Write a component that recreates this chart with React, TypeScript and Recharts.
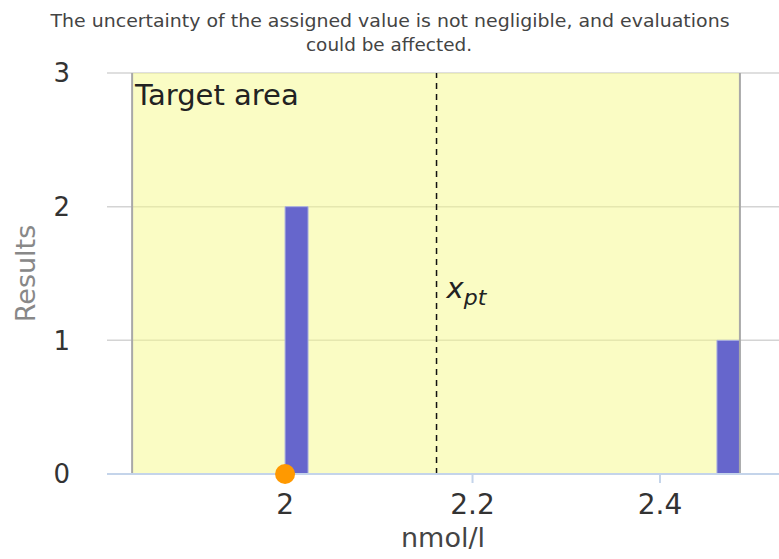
import React from "react";
import {
  ComposedChart,
  CartesianGrid,
  XAxis,
  YAxis,
  Scatter,
  ReferenceArea,
  ReferenceLine,
} from "recharts";

// participant results histogram (bin start, bin end, count)
const binStarts = [2.0, 2.4608];
const binEnds = [2.0245, 2.4853];
const binCounts = [2, 1];

// own result marker
const ownResult = [{ x: 2.0, y: 0 }];

// assigned value and target area
const xpt = 2.1616;
const targetLow = 1.8368;
const targetHigh = 2.4853;

const xTicks = [2, 2.2, 2.4];
const yTicks = [0, 1, 2, 3];
const xDomain = [1.81, 2.527];

const title = [
  "The uncertainty of the assigned value is not negligible, and evaluations",
  "could be affected.",
];

const FONT = "'DejaVu Sans', Verdana, sans-serif";

const App: React.FC = () => {
  const bins = binStarts.map((s, i) => ({ x1: s, x2: binEnds[i], y: binCounts[i] }));

  const targetLabel = (props: any) => {
    const { x, y } = props.viewBox;
    return (
      <text x={x + 3} y={y + 32} fontSize={29} fontFamily={FONT} fill="#222">
        Target area
      </text>
    );
  };

  const xptLabel = (props: any) => {
    const { x, y, height } = props.viewBox;
    return (
      <text x={x + 10} y={y + height / 2 + 24} fontFamily={FONT} fill="#222" fontStyle="italic">
        <tspan fontSize={29}>x</tspan>
        <tspan fontSize={22} dy={7}>pt</tspan>
      </text>
    );
  };

  const yLabel = (props: any) => {
    const { y, height } = props.viewBox;
    const cx = 25;
    const cy = y + height / 2;
    return (
      <text
        x={cx}
        y={cy}
        transform={`rotate(-90, ${cx}, ${cy})`}
        textAnchor="middle"
        dominantBaseline="central"
        fontSize={27}
        fontFamily={FONT}
        fill="#888"
      >
        Results
      </text>
    );
  };

  return (
    <div style={{ position: "absolute", left: 0, top: 0, width: 779, height: 559, background: "#fff" }}>
      <ComposedChart
        width={779}
        height={559}
        data={ownResult}
        margin={{ top: 73, right: 0, bottom: 0, left: 0 }}
      >
        <CartesianGrid vertical={false} stroke="#d4d4d4" strokeWidth={1.5} />
        <XAxis
          type="number"
          dataKey="x"
          domain={xDomain}
          ticks={xTicks}
          allowDataOverflow
          height={85}
          stroke="#c4d4ea"
          strokeWidth={2}
          tickSize={9}
          tickMargin={11}
          tick={{ fontSize: 28, fontFamily: FONT, fill: "#333" }}
          tickFormatter={(v: number) => String(v)}
          label={{
            value: "nmol/l",
            position: "insideBottom",
            offset: 12,
            fontSize: 27,
            fontFamily: FONT,
            fill: "#444",
          }}
        />
        <YAxis
          type="number"
          dataKey="y"
          domain={[0, 3]}
          ticks={yTicks}
          width={107}
          axisLine={false}
          tickLine={false}
          tickMargin={31}
          tick={{ fontSize: 26, fontFamily: FONT, fill: "#333" }}
          label={yLabel}
        />
        <ReferenceArea
          x1={targetLow}
          x2={targetHigh}
          y1={0}
          y2={3}
          fill="#f5f98a"
          fillOpacity={0.5}
          stroke="none"
          label={targetLabel}
        />
        <ReferenceLine x={targetLow} stroke="#a8a8a8" strokeWidth={2} />
        <ReferenceLine x={targetHigh} stroke="#a8a8a8" strokeWidth={2} />
        {bins.map((b, i) => (
          <ReferenceArea
            key={i}
            x1={b.x1}
            x2={b.x2}
            y1={0}
            y2={b.y}
            fill="#6666cc"
            fillOpacity={1}
            stroke="#aab0e0"
            strokeWidth={1}
          />
        ))}
        <ReferenceLine
          x={xpt}
          stroke="#111"
          strokeWidth={1.5}
          strokeDasharray="6 5"
          label={xptLabel}
        />
        <Scatter
          data={ownResult}
          dataKey="y"
          isAnimationActive={false}
          shape={(p: any) => <circle cx={p.cx} cy={p.cy} r={10} fill="#ff9900" />}
        />
      </ComposedChart>
      <svg
        width={779}
        height={60}
        style={{ position: "absolute", left: 0, top: 0, pointerEvents: "none" }}
      >
        <text
          x={390}
          y={27}
          textAnchor="middle"
          fontFamily={FONT}
          fontSize={17}
          fill="#444"
          textLength={679}
          lengthAdjust="spacingAndGlyphs"
        >
          {title[0]}
        </text>
        <text
          x={389}
          y={51}
          textAnchor="middle"
          fontFamily={FONT}
          fontSize={17}
          fill="#444"
          textLength={166}
          lengthAdjust="spacingAndGlyphs"
        >
          {title[1]}
        </text>
      </svg>
    </div>
  );
};

export default App;
